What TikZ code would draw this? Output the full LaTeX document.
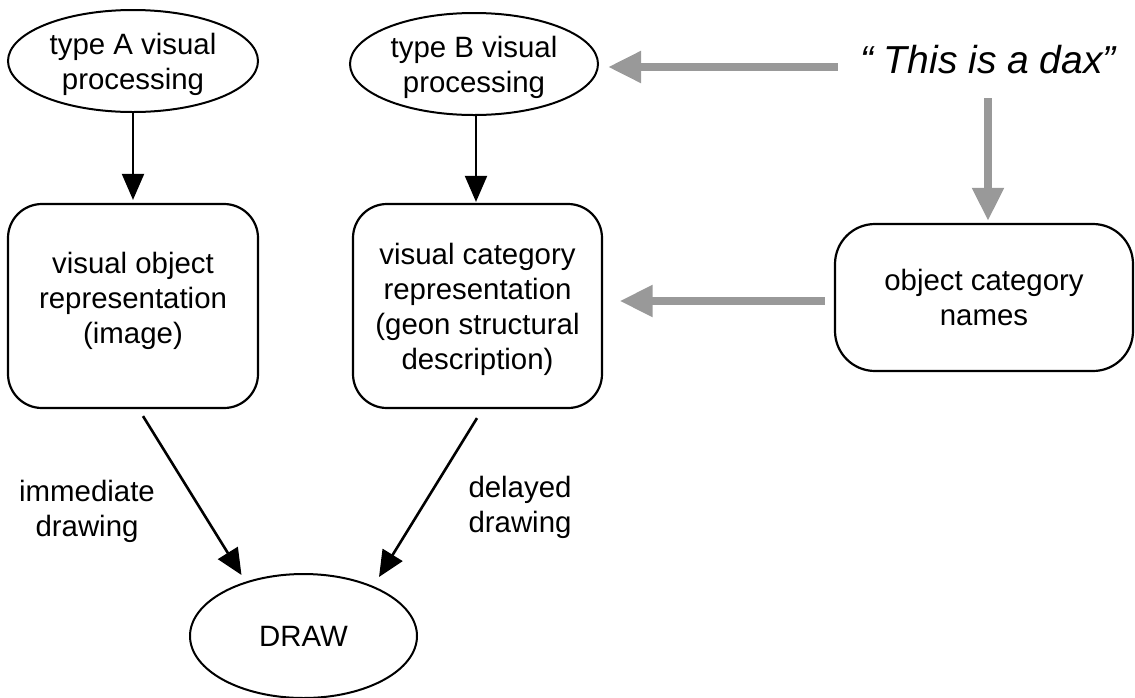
\documentclass[tikz,border=0pt]{standalone}
\usepackage{fontspec}
\setmainfont{Liberation Sans}
\usetikzlibrary{arrows.meta,shapes.geometric,calc}
\definecolor{arrowgray}{RGB}{153,153,153}
\begin{document}
\begin{tikzpicture}[x=1pt,y=-1pt,
  txt/.style={font=\fontsize{29.4}{35}\selectfont, align=center},
  ell/.style={ellipse, draw, line width=2pt, inner sep=0pt, txt},
  rbox/.style={draw, line width=2.2pt, rounded corners=34pt, inner sep=0pt, txt},
  blk/.style={line width=2pt, -{Triangle[length=26pt,width=22pt]}},
  blkd/.style={line width=2.6pt, -{Triangle[length=26pt,width=23pt]}},
  gry/.style={draw=arrowgray, line width=8pt, -{Triangle[length=33pt,width=30pt]}, fill=arrowgray}
]
\useasboundingbox (0,0) rectangle (1135,697);
\node[ell, minimum width=250pt, minimum height=102pt, text depth=0pt] (ea) at (133,61) {type A visual\\processing};
\node[ell, minimum width=248pt, minimum height=102pt, text depth=0pt] (eb) at (474,64) {type B visual\\processing};
\node[rbox, minimum width=250pt, minimum height=204pt, text depth=16pt] (ba) at (133,306) {visual object\\representation\\(image)};
\node[rbox, minimum width=249pt, minimum height=204pt, text depth=0pt] (bb) at (477.5,306) {visual category\\representation\\(geon structural\\description)};
\node[rbox, minimum width=298pt, minimum height=147pt, rounded corners=40pt] (cn) at (984,297.5) {object category\\names};
\node[ell, minimum width=227pt, minimum height=124pt] (dr) at (303.5,636) {DRAW};
\node[font=\fontsize{39}{47}\selectfont\itshape, anchor=base] (dax) at (988,73) {“ This is a dax”};
\node[txt] (lA) at (87,511) {immediate\\drawing};
\node[txt] (lB) at (520,507) {delayed\\drawing};
\draw[blk, shorten >=3pt] (ea.south) -- (ea.south |- ba.north);
\draw[blk, shorten >=1pt] ($(eb.south)+(2,0)$) -- ($(eb.south |- bb.north)+(2,0)$);
\draw[gry] ($(dax.west |- eb.east)+(-19,3)$) -- ($(eb.east)+(9,3)$);
\draw[gry] ($(dax.base)+(0,25)$) -- ($(dax.base |- cn.north)+(0,-2)$);
\draw[gry] ($(cn.west)+(-9,3.5)$) -- ($(bb.east)+(16.5,-5)$);
\draw[blkd] ($(ba.south)+(10,7)$) -- ($(dr.center)+(-62,-61)$);
\draw[blkd] ($(bb.south)+(-0.5,9)$) -- ($(dr.center)+(75.5,-59)$);
\end{tikzpicture}
\end{document}
